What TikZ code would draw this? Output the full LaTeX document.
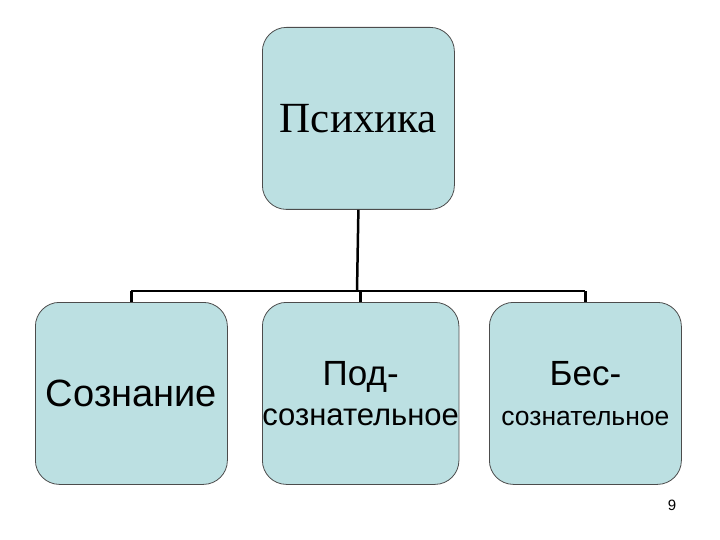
\documentclass[tikz,border=0pt]{standalone}
\usepackage{fontspec}
\setmainfont{Liberation Serif}
\setsansfont{Liberation Sans}
\begin{document}
\begin{tikzpicture}[x=1pt,y=-1pt,
  box/.style={draw=black!70,line width=0.8pt,fill=boxfill,rounded corners=24pt,minimum width=192pt,minimum height=182pt,inner sep=0pt,anchor=north west,align=center},
  conn/.style={line width=2.5pt,black}]
\definecolor{boxfill}{HTML}{BCE0E2}
\useasboundingbox (0,0) rectangle (720,540);
\node[box,font=\fontsize{43}{46}\selectfont] (top) at (262,27) {Психика};
\node[box,font=\sffamily\fontsize{38}{42}\selectfont] (b1) at (35,302) {Сознание};
\node[box,font=\sffamily\fontsize{31}{40}\selectfont] (b2) at (262,302) {{\fontsize{35}{40}\selectfont Под-}\\сознательное};
\node[box,font=\sffamily\fontsize{26.5}{40}\selectfont] (b3) at (489,302) {{\fontsize{35}{40}\selectfont Бес-}\\сознательное};
\coordinate (h) at (357,291);
\draw[conn] (top.south) -- (h);
\draw[conn] (b1.north |- h) -- (b3.north |- h);
\draw[conn] (b1.north |- h) -- (b1.north);
\draw[conn] (b2.north |- h) -- (b2.north);
\draw[conn] (b3.north |- h) -- (b3.north);
\node[font=\sffamily\fontsize{15}{16}\selectfont] (pg) at (672,505) {9};
\end{tikzpicture}
\end{document}
